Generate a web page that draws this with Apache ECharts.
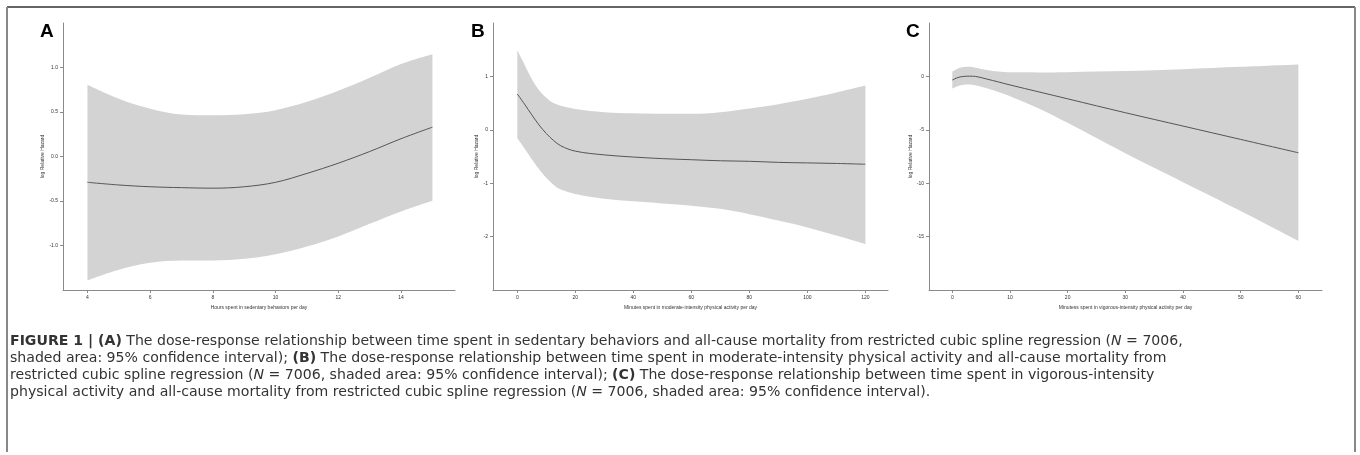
<!DOCTYPE html>
<html>
<head>
<meta charset="utf-8">
<script src="https://cdn.jsdelivr.net/npm/echarts@6/dist/echarts.min.js"></script>
<style>
  html, body { margin: 0; padding: 0; background: #fff; }
  #main { width: 1360px; height: 455px; }
</style>
</head>
<body>
<div id="main"></div>
<script>
// Panel A: sedentary hours
const aX     = [4, 5, 6, 7, 8, 9, 10, 11, 12, 13, 14, 15];
const aFit   = [-0.29, -0.32, -0.34, -0.35, -0.356, -0.34, -0.29, -0.19, -0.075, 0.056, 0.2, 0.33];
const aUpper = [0.805, 0.648, 0.536, 0.472, 0.464, 0.476, 0.52, 0.614, 0.738, 0.884, 1.04, 1.15];
const aLower = [-1.393, -1.273, -1.195, -1.169, -1.169, -1.15, -1.097, -1.011, -0.899, -0.757, -0.618, -0.498];

// Panel B: moderate-intensity minutes
const bX     = [0, 2.5, 5, 7.5, 10, 12.5, 15, 20, 30, 40, 50, 60, 70, 80, 90, 100, 110, 120];
const bFit   = [0.67, 0.48, 0.28, 0.09, -0.07, -0.2, -0.3, -0.4, -0.47, -0.51, -0.54, -0.56, -0.58, -0.59, -0.61, -0.62, -0.63, -0.645];
const bUpper = [1.49, 1.22, 0.95, 0.74, 0.6, 0.5, 0.45, 0.39, 0.33, 0.31, 0.3, 0.3, 0.33, 0.4, 0.48, 0.58, 0.7, 0.83];
const bLower = [-0.16, -0.35, -0.55, -0.74, -0.9, -1.03, -1.12, -1.2, -1.29, -1.34, -1.38, -1.42, -1.48, -1.58, -1.7, -1.83, -1.98, -2.14];

// Panel C: vigorous-intensity minutes
const cX     = [0, 1, 2, 3, 4, 6, 8, 10, 15, 20, 30, 40, 50, 60];
const cFit   = [-0.34, -0.1, 0.0, 0.02, 0.0, -0.25, -0.52, -0.8, -1.45, -2.1, -3.4, -4.65, -5.9, -7.15];
const cUpper = [0.45, 0.75, 0.88, 0.9, 0.82, 0.6, 0.45, 0.38, 0.37, 0.4, 0.5, 0.68, 0.9, 1.12];
const cLower = [-1.15, -0.9, -0.78, -0.76, -0.82, -1.1, -1.45, -1.85, -3.0, -4.35, -7.2, -9.9, -12.6, -15.4];

// tick labels
const aXTicks = [4, 6, 8, 10, 12, 14];
const aYTicks = [-1, -0.5, 0, 0.5, 1];
const bXTicks = [0, 20, 40, 60, 80, 100, 120];
const bYTicks = [-2, -1, 0, 1];
const cXTicks = [0, 10, 20, 30, 40, 50, 60];
const cYTicks = [-15, -10, -5, 0];

const xNames = [
    'Hours spent in sedentary behaviors per day',
    'Minutes spent in moderate-intensity physical activity per day',
    'Minutess spent in vigorous-intensity physical activity per day'
];
const yName = 'log Relative Hazard';
const panelLetters = ['A', 'B', 'C'];

const captionLines = [
    '{b|FIGURE 1 | (A)} The dose-response relationship between time spent in sedentary behaviors and all-cause mortality from restricted cubic spline regression ({i|N} = 7006,',
    'shaded area: 95% confidence interval); {b|(B)} The dose-response relationship between time spent in moderate-intensity physical activity and all-cause mortality from',
    'restricted cubic spline regression ({i|N} = 7006, shaded area: 95% confidence interval); {b|(C)} The dose-response relationship between time spent in vigorous-intensity',
    'physical activity and all-cause mortality from restricted cubic spline regression ({i|N} = 7006, shaded area: 95% confidence interval).'
];

var chartDom = document.getElementById('main');
var myChart = echarts.init(chartDom);

const axisGray = '#8a8a8a';
const textCol = '#333';
const FONT = 'Liberation Sans, Arial, sans-serif';
const CAP_FONT = 'DejaVu Sans, sans-serif';
const SMOOTH = 0.35;

// panel boxes (plot area) and axis ranges
const panels = [
    { left: 63,  width: 392, xMin: 3.22,  xMax: 15.72, yMin: -1.5, yMax: 1.5, xTicks: aXTicks, yTicks: aYTicks,
      fmt: v => v.toFixed(1), yGap: 16, x: aX, fit: aFit, up: aUpper, lo: aLower, letterX: 40 },
    { left: 493, width: 395, xMin: -8.38, xMax: 127.8, yMin: -3, yMax: 2, xTicks: bXTicks, yTicks: bYTicks,
      fmt: v => String(v), yGap: 14, x: bX, fit: bFit, up: bUpper, lo: bLower, letterX: 471 },
    { left: 929, width: 393, xMin: -4.04, xMax: 64.1, yMin: -20, yMax: 5, xTicks: cXTicks, yTicks: cYTicks,
      fmt: v => String(v), yGap: 16, x: cX, fit: cFit, up: cUpper, lo: cLower, letterX: 906 }
];

let grids = [], xAxes = [], yAxes = [], series = [], graphics = [];
panels.forEach((p, i) => {
    grids.push({ left: p.left, width: p.width, top: 23, height: 267, outerBoundsMode: 'none' });
    xAxes.push({
        type: 'value', gridIndex: i, min: p.xMin, max: p.xMax, z: 5,
        name: xNames[i], nameLocation: 'middle', nameGap: 14,
        nameTextStyle: { fontSize: 5, color: textCol, fontFamily: FONT },
        axisLine: { show: true, onZero: false, lineStyle: { color: axisGray, width: 1 } },
        axisTick: { show: true, customValues: p.xTicks, length: 3, lineStyle: { color: axisGray } },
        axisLabel: { customValues: p.xTicks, fontSize: 5, color: textCol, margin: 5, fontFamily: FONT },
        splitLine: { show: false }
    });
    yAxes.push({
        type: 'value', gridIndex: i, min: p.yMin, max: p.yMax, z: 5,
        name: yName, nameLocation: 'middle', nameGap: p.yGap,
        nameTextStyle: { fontSize: 5, color: textCol, fontFamily: FONT },
        axisLine: { show: true, onZero: false, lineStyle: { color: axisGray, width: 1 } },
        axisTick: { show: true, customValues: p.yTicks, length: 3, lineStyle: { color: axisGray } },
        axisLabel: { customValues: p.yTicks, fontSize: 5, color: textCol, margin: 5, fontFamily: FONT,
                     formatter: p.fmt },
        splitLine: { show: false }
    });
    // confidence band: lower limit, then the band width stacked on it.
    // y is put in the first column so that the stack runs along y.
    series.push({
        type: 'line', xAxisIndex: i, yAxisIndex: i, stack: 'band' + i, stackStrategy: 'all',
        encode: { x: 1, y: 0 },
        data: p.x.map((x, k) => [p.lo[k], x]),
        showSymbol: false, smooth: SMOOTH, lineStyle: { width: 0, opacity: 0 }, silent: true
    });
    series.push({
        type: 'line', xAxisIndex: i, yAxisIndex: i, stack: 'band' + i, stackStrategy: 'all',
        encode: { x: 1, y: 0 },
        data: p.x.map((x, k) => [p.up[k] - p.lo[k], x]),
        showSymbol: false, smooth: SMOOTH, lineStyle: { width: 0, opacity: 0 },
        areaStyle: { color: '#d3d3d3', opacity: 1 }, silent: true
    });
    series.push({
        type: 'line', xAxisIndex: i, yAxisIndex: i, z: 3,
        data: p.x.map((x, k) => [x, p.fit[k]]),
        showSymbol: false, smooth: SMOOTH, lineStyle: { color: '#555', width: 1 }
    });
    graphics.push({
        type: 'text', left: p.letterX, top: 22,
        style: { text: panelLetters[i], fontSize: 19, fontWeight: 'bold', fill: '#000', fontFamily: FONT }
    });
});

// frame around figure
graphics.push({ type: 'line', shape: { x1: 7, y1: 7, x2: 1355, y2: 7 }, style: { stroke: '#333', lineWidth: 1.5 } });
graphics.push({ type: 'line', shape: { x1: 7, y1: 7, x2: 7, y2: 452 }, style: { stroke: '#888', lineWidth: 2 } });
graphics.push({ type: 'line', shape: { x1: 1355, y1: 7, x2: 1355, y2: 452 }, style: { stroke: '#888', lineWidth: 2 } });

// caption
graphics.push({
    type: 'text', left: 10, top: 333,
    style: {
        text: captionLines.join('\n'),
        fontSize: 14.1, fontFamily: CAP_FONT, fill: textCol, lineHeight: 17,
        rich: {
            b: { fontSize: 14.1, fontWeight: 'bold', fontFamily: CAP_FONT, fill: textCol, lineHeight: 17 },
            i: { fontSize: 14.1, fontStyle: 'italic', fontFamily: CAP_FONT, fill: textCol, lineHeight: 17 }
        }
    }
});

var option = {
    backgroundColor: '#fff',
    animation: false,
    grid: grids,
    xAxis: xAxes,
    yAxis: yAxes,
    series: series,
    graphic: graphics
};
option && myChart.setOption(option);
</script>
</body>
</html>
